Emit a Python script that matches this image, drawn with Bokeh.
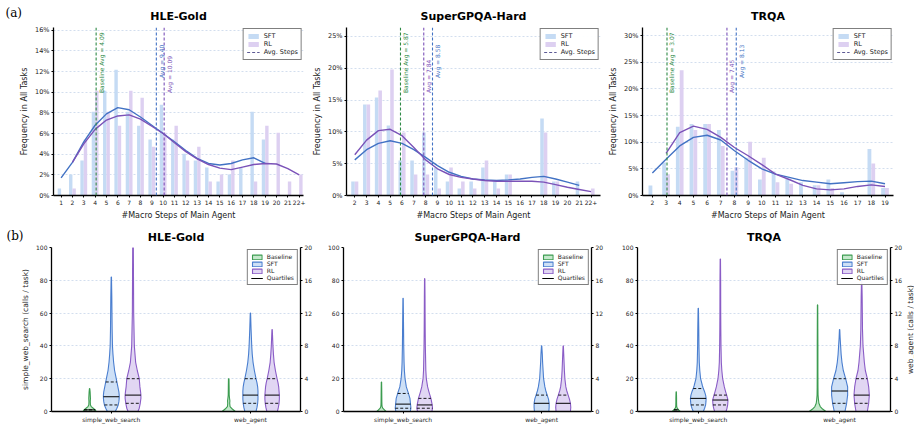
import numpy as np
from bokeh.plotting import figure
from bokeh.layouts import row, column
from bokeh.models import Range1d, FixedTicker, Span, Legend, LegendItem, LinearAxis, Label
from bokeh.core.properties import value
from bokeh.embed import file_html
from bokeh.resources import INLINE

FONT = "DejaVu Sans"

# ---------------- (a) macro-step distributions (% of tasks) ----------------
hle_steps = list(range(1, 23))
hle_labels = [str(s) for s in range(1, 22)] + ["22+"]
hle_sft = [0.68, 2.03, 3.38, 8.11, 10.14, 12.16, 8.11, 6.76, 5.41, 8.78, 5.41,
           4.05, 3.38, 2.70, 1.35, 2.03, 2.70, 8.11, 5.41, 0, 0, 0]
hle_rl = [0, 0.68, 5.41, 10.14, 8.11, 6.76, 10.14, 9.46, 4.73, 6.08, 6.76,
          3.38, 4.73, 1.35, 2.03, 3.38, 0, 1.35, 6.76, 6.08, 1.35, 2.03]
hle_sft_kx = list(range(1, 20))
hle_sft_ky = [1.7, 3.2, 5.2, 6.8, 7.9, 8.5, 8.3, 7.6, 6.8, 6.0, 5.2, 4.35, 3.6,
              3.1, 2.95, 3.1, 3.45, 3.65, 3.1]
hle_rl_kx = list(range(2, 23))
hle_rl_ky = [3.2, 5.0, 6.4, 7.3, 7.7, 7.8, 7.4, 6.7, 6.0, 5.1, 4.25, 3.55, 3.0,
             2.65, 2.5, 2.75, 3.0, 3.1, 3.05, 2.6, 2.0]
hle_avg = {"base": 4.09, "sft": 9.40, "rl": 10.09}

sg_steps = list(range(2, 23))
sg_labels = [str(s) for s in range(2, 22)] + ["22+"]
sg_sft = [2.2, 14.3, 15.4, 11.0, 5.5, 5.5, 9.9, 4.4, 2.2, 1.1, 2.2, 4.4, 2.2,
          3.3, 0, 0, 12.1, 2.2, 0, 2.2, 0]
sg_rl = [2.2, 14.3, 16.5, 19.8, 9.9, 3.3, 3.3, 1.1, 4.4, 2.2, 1.1, 5.5, 1.1,
         3.3, 0, 0, 9.9, 2.2, 0, 0, 1.1]
sg_sft_kx = list(range(2, 22))
sg_sft_ky = [5.6, 7.2, 8.2, 8.6, 8.2, 7.2, 6.0, 4.7, 3.65, 3.0, 2.6, 2.45, 2.35,
             2.45, 2.6, 2.85, 3.0, 2.6, 2.1, 1.6]
sg_rl_kx = list(range(2, 23))
sg_rl_ky = [6.4, 8.7, 10.2, 10.4, 9.4, 7.55, 5.6, 4.2, 3.3, 2.85, 2.6, 2.35, 2.25,
            2.25, 2.25, 2.25, 2.1, 1.7, 1.3, 0.95, 0.6]
sg_avg = {"base": 5.87, "sft": 8.58, "rl": 7.84}

tr_steps = list(range(2, 20))
tr_labels = [str(s) for s in range(2, 20)]
tr_sft = [1.86, 6.2, 12.9, 13.4, 13.4, 12.3, 4.65, 7.1, 3.0, 4.5, 3.1, 2.5, 1.9,
          3.0, 0.6, 0, 8.7, 1.4]
tr_rl = [0, 4.0, 23.5, 12.3, 13.4, 9.3, 5.3, 10.1, 7.1, 2.5, 2.2, 0, 1.9, 1.4,
         0, 0, 6.0, 1.4]
tr_sft_kx = list(range(2, 20))
tr_sft_ky = [4.2, 6.8, 9.3, 10.9, 11.3, 10.4, 8.4, 6.6, 5.0, 4.0, 3.4, 2.8, 2.5,
             2.2, 2.4, 2.6, 2.7, 2.2]
tr_rl_kx = list(range(3, 20))
tr_rl_ky = [7.9, 11.8, 13.0, 12.4, 10.9, 9.0, 7.45, 5.8, 4.0, 3.0, 1.9, 1.25,
            1.05, 1.25, 1.7, 2.0, 1.7]
tr_avg = {"base": 3.07, "sft": 8.13, "rl": 7.45}

# ---------------- (b) tool calls per task: violin profiles ----------------
# *_v: call counts, *_d: relative density (violin half-width), *_q: quartiles
hle_sws_base_v = [0, 1, 2, 3, 4, 6, 8, 10, 12, 14]
hle_sws_base_d = [20, 17, 11, 5, 2.5, 2, 2.5, 2, 1.5, 0.5]
hle_sws_base_q = [0, 1, 1]
hle_sws_sft_v = [0, 2, 4, 6, 8, 10, 12, 15, 20, 25, 30, 35, 40, 50, 60, 70, 82]
hle_sws_sft_d = [12, 17, 21, 23, 24, 24, 23, 20, 15, 10, 7, 5, 3.5, 2.5, 2, 1.5, 0.5]
hle_sws_sft_q = [4, 9, 18]
hle_sws_rl_v = [0, 2, 5, 8, 10, 12, 15, 20, 25, 30, 35, 40, 50, 60, 80, 100]
hle_sws_rl_d = [15, 19, 22, 24, 24, 23, 21, 19, 13, 8, 6, 4, 3, 2, 1.5, 1]
hle_sws_rl_q = [5, 10, 20]
hle_web_base_v = [0, 0.3, 0.6, 1, 1.3, 1.6, 2, 3, 4]
hle_web_base_d = [20, 11, 4, 3, 3.5, 2.5, 1.5, 1.2, 0.8]
hle_web_base_q = [0, 0, 0]
hle_web_sft_v = [0, 0.5, 1, 1.5, 2, 2.5, 3, 3.5, 4, 5, 6, 7, 8, 10, 12]
hle_web_sft_d = [17, 20, 22, 23, 23, 23, 22, 20, 17, 12, 8, 5.5, 4, 2, 0.5]
hle_web_sft_q = [1, 2, 4]
hle_web_rl_v = [0, 0.5, 1, 1.5, 2, 2.5, 3, 3.5, 4, 5, 6, 7, 8, 10]
hle_web_rl_d = [16, 19, 21, 22, 22, 21, 20, 18, 15, 10, 6, 4, 2.5, 0.5]
hle_web_rl_q = [1, 2, 4]

sg_sws_base_v = [0, 1, 2, 3, 4, 6, 10, 14, 18]
sg_sws_base_d = [14, 9, 4, 2, 1.5, 1.2, 1, 0.8, 0.5]
sg_sws_base_q = [0, 0, 0]
sg_sws_sft_v = [0, 2, 4, 6, 8, 10, 12, 15, 20, 25, 30, 40, 50, 60, 69]
sg_sws_sft_d = [22, 24, 23, 22, 21, 18, 15, 10, 6, 4, 3, 2, 1.5, 1, 0.5]
sg_sws_sft_q = [2, 4.5, 11]
sg_sws_rl_v = [0, 2, 4, 6, 8, 10, 12, 15, 20, 25, 30, 40, 50, 60, 70, 81]
sg_sws_rl_d = [22, 24, 23, 21, 19, 16, 13, 9, 5, 3.5, 3, 2, 1.5, 1.2, 1, 0.5]
sg_sws_rl_q = [2, 4, 8]
sg_web_base_v = [0, 0]
sg_web_base_d = [22, 22]
sg_web_base_q = [0, 0, 0]
sg_web_sft_v = [0, 0.5, 1, 1.5, 2, 2.5, 3, 4, 5, 6, 7, 8]
sg_web_sft_d = [22, 23, 23, 21, 17, 13, 10, 6, 4.5, 3, 2, 0.5]
sg_web_sft_q = [0, 1, 2]
sg_web_rl_v = [0, 0.5, 1, 1.5, 2, 2.5, 3, 4, 5, 6, 7, 8]
sg_web_rl_d = [22, 23, 22, 19, 15, 11, 8, 5, 3.5, 2.5, 1.5, 0.5]
sg_web_rl_q = [0, 1, 2]

tr_sws_base_v = [0, 1, 2, 3, 4, 6, 8, 10, 12]
tr_sws_base_d = [12, 7, 3, 1.5, 1.2, 1, 1, 0.8, 0.5]
tr_sws_base_q = [0, 1, 1]
tr_sws_sft_v = [0, 2, 4, 6, 8, 10, 12, 14, 16, 20, 25, 30, 40, 50, 63]
tr_sws_sft_d = [15, 19, 22, 23, 23.5, 22, 19, 15, 12, 7, 4.5, 3, 2, 1.5, 0.5]
tr_sws_sft_q = [4, 8, 14]
tr_sws_rl_v = [0, 2, 4, 7, 10, 12, 15, 20, 25, 30, 40, 50, 60, 80, 93]
tr_sws_rl_d = [17, 20, 22, 23, 19, 16, 12, 7, 4.5, 3, 2, 1.5, 1.2, 1, 0.5]
tr_sws_rl_q = [4, 7, 10]
tr_web_base_v = [0, 0.3, 0.6, 1, 1.5, 2, 3, 5, 8, 10, 13]
tr_web_base_d = [25, 15, 8, 4, 2.5, 1.5, 1.2, 1, 1, 0.8, 0.5]
tr_web_base_q = [0, 0, 0]
tr_web_sft_v = [0, 1, 2, 3, 4, 5, 6, 7, 8, 9, 10]
tr_web_sft_d = [16, 21, 24, 24, 18, 11, 7, 4.5, 3, 1.5, 0.5]
tr_web_sft_q = [1, 2.5, 4]
tr_web_rl_v = [0, 1, 2, 3, 4, 5, 6, 8, 10, 12, 14, 16]
tr_web_rl_d = [17, 21, 23, 21, 17, 11, 8, 4, 2.5, 2, 1.5, 0.5]
tr_web_rl_q = [1, 2, 4]

tool_groups = ["simple_web_search", "web_agent"]
models = ["Baseline", "SFT", "RL"]

# ---------------- styling ----------------
C_SFT_BAR = "#c5dbf4"
C_RL_BAR = "#ddd0f1"
C_SFT = "#4272c4"
C_RL = "#7b52b8"
C_BASE = "#2e8a46"
C_AVG = "#5d5a95"
V_LINE = {"Baseline": "#3c9c50", "SFT": "#4a7ecf", "RL": "#8a5cc6"}
V_FILL = {"Baseline": "#bfe5c6", "SFT": "#c9ddf5", "RL": "#ded1f2"}
GRID = "#c8d5ea"
TEXT = "#222222"


def style_axis(ax, tick_size="6.5px", label_size="8px"):
    ax.major_label_text_font = FONT
    ax.major_label_text_font_size = tick_size
    ax.major_label_text_color = TEXT
    ax.axis_label_text_font = FONT
    ax.axis_label_text_font_style = "normal"
    ax.axis_label_text_font_size = label_size
    ax.axis_label_text_color = TEXT
    ax.axis_line_color = "black"
    ax.axis_line_width = 1.3
    ax.major_tick_in = 0
    ax.major_tick_out = 2
    ax.minor_tick_line_color = None
    ax.major_label_standoff = 2
    ax.axis_label_standoff = 3


def base_fig(title, width, height, xr, yr, left, right, top, bottom, standoff):
    p = figure(width=width, height=height, x_range=Range1d(*xr), y_range=Range1d(*yr),
               output_backend="svg", toolbar_location=None,
               min_border_left=left, min_border_right=right,
               min_border_top=top, min_border_bottom=bottom)
    p.title.text = title
    p.title.align = "center"
    p.title.text_font = FONT
    p.title.text_font_size = "11px"
    p.title.text_font_style = "bold"
    p.title.text_color = "black"
    p.title.standoff = standoff
    p.outline_line_color = None
    p.xgrid.visible = False
    p.ygrid.grid_line_color = GRID
    p.ygrid.grid_line_dash = "2 2"
    p.ygrid.grid_line_width = 0.8
    return p


def step_panel(title, steps, labels, sft, rl, sft_kx, sft_ky, rl_kx, rl_ky, avg,
               ytick_step, ytop, xr, width, left, right, bar_w):
    p = base_fig(title, width, 225, xr, (0, ytop), left, right, 27, 30, 10)
    yticks = [int(t) for t in np.arange(0, ytop, ytick_step)]
    p.yaxis.ticker = FixedTicker(ticks=yticks)
    p.yaxis.major_label_overrides = {t: f"{t}%" for t in yticks}
    p.ygrid.ticker = FixedTicker(ticks=yticks)
    p.xaxis.ticker = FixedTicker(ticks=steps)
    p.xaxis.major_label_overrides = {s: lab for s, lab in zip(steps, labels)}
    p.yaxis.axis_label = "Frequency in All Tasks"
    p.xaxis.axis_label = "#Macro Steps of Main Agent"
    style_axis(p.yaxis[0])
    style_axis(p.xaxis[0], tick_size="6px")

    r_sft = p.vbar(x=[s - bar_w / 2 for s in steps], top=sft, width=bar_w,
                   fill_color=C_SFT_BAR, line_color=None)
    r_rl = p.vbar(x=[s + bar_w / 2 for s in steps], top=rl, width=bar_w,
                  fill_color=C_RL_BAR, line_color=None)
    p.line(sft_kx, sft_ky, line_color=C_SFT, line_width=1.4)
    p.line(rl_kx, rl_ky, line_color=C_RL, line_width=1.4)

    for key, color, text, frac in [("base", C_BASE, "Baseline Avg = {:.2f}", 0.61),
                                   ("sft", C_SFT, "Avg = {:.2f}", 0.70),
                                   ("rl", C_RL, "Avg = {:.2f}", 0.61)]:
        p.add_layout(Span(location=avg[key], dimension="height", line_color=color,
                          line_dash="3 2", line_width=1.1))
        p.text(x=[avg[key]], y=[frac * ytop], text=[text.format(avg[key])],
               angle=np.pi / 2, text_align="left", text_baseline="top", x_offset=1.5,
               text_font=value(FONT), text_font_size="6px", text_color=color)

    r_avg = p.line(x=[0, 0], y=[0, 0], line_color=C_AVG, line_dash="3 2", line_width=1.2)
    leg = Legend(items=[LegendItem(label="SFT", renderers=[r_sft]),
                        LegendItem(label="RL", renderers=[r_rl]),
                        LegendItem(label="Avg. Steps", renderers=[r_avg])],
                 location="top_right")
    leg.margin = 1
    leg.padding = 3
    leg.spacing = 0
    leg.label_standoff = 4
    leg.glyph_width = 13
    leg.glyph_height = 6
    leg.label_height = 8
    leg.label_text_font = FONT
    leg.label_text_font_size = "6.5px"
    leg.label_text_color = TEXT
    leg.border_line_color = "black"
    leg.border_line_width = 1
    p.add_layout(leg)
    return p


VIOLIN_SCALE = 0.0567 / 24
HUE_OFFSET = {"Baseline": -0.156, "SFT": 0.0, "RL": 0.156}


def draw_violin(p, center, v, d, q, model, range_name):
    v = np.asarray(v, dtype=float)
    hw = np.asarray(d, dtype=float) * VIOLIN_SCALE
    xs = np.concatenate([center - hw, (center + hw)[::-1]])
    ys = np.concatenate([v, v[::-1]])
    r = p.patch(xs, ys, fill_color=V_FILL[model], fill_alpha=0.9,
                line_color=V_LINE[model], line_width=1.1, y_range_name=range_name)
    for i, qv in enumerate(q):
        w = float(np.interp(qv, v, hw))
        p.segment(x0=[center - w], x1=[center + w], y0=[qv], y1=[qv],
                  line_color="black", line_width=1.0 if i == 1 else 0.9,
                  line_dash="solid" if i == 1 else "3 2", y_range_name=range_name)
    return r


def violin_panel(title, sws, web, width, left, right, left_label, right_label):
    p = base_fig(title, width, 200, (-0.43, 1.36), (0, 100), left, right, 22, 14, 7)
    p.extra_y_ranges = {"calls": Range1d(0, 20)}
    p.yaxis.ticker = FixedTicker(ticks=[0, 20, 40, 60, 80, 100])
    p.ygrid.ticker = FixedTicker(ticks=[0, 20, 40, 60, 80, 100])
    p.xaxis.ticker = FixedTicker(ticks=[0, 1])
    p.xaxis.major_label_overrides = {0: tool_groups[0], 1: tool_groups[1]}
    raxis = LinearAxis(y_range_name="calls", ticker=FixedTicker(ticks=[0, 4, 8, 12, 16, 20]))
    p.add_layout(raxis, "right")
    if left_label:
        p.yaxis[0].axis_label = left_label
    for ax in (p.yaxis[0], raxis, p.xaxis[0]):
        style_axis(ax, tick_size="6px", label_size="7.5px")
    if right_label:
        # right-hand caption reads bottom-to-top, like the left one
        p.add_layout(Label(x=5, y=82, x_units="screen", y_units="screen", text=right_label,
                           angle=np.pi / 2, text_align="center", text_baseline="middle",
                           text_font=FONT, text_font_size="7.5px", text_color=TEXT),
                     "right")

    handles = {}
    for gi, (group, rname) in enumerate([(sws, "default"), (web, "calls")]):
        for m in models:
            v, d, q = group[m]
            r = draw_violin(p, gi + HUE_OFFSET[m], v, d, q, m, rname)
            handles.setdefault(m, r)

    r_q = p.line(x=[0, 0], y=[0, 0], line_color="black", line_width=1.2)
    leg = Legend(items=[LegendItem(label=m, renderers=[handles[m]]) for m in models] +
                 [LegendItem(label="Quartiles", renderers=[r_q])], location="top_right")
    leg.margin = 2
    leg.padding = 3
    leg.spacing = 0
    leg.label_standoff = 4
    leg.glyph_width = 12
    leg.glyph_height = 6
    leg.label_height = 7
    leg.label_text_font = FONT
    leg.label_text_font_size = "6px"
    leg.label_text_color = TEXT
    leg.border_line_color = "black"
    leg.border_line_width = 1
    p.add_layout(leg)
    return p


p1 = step_panel("HLE-Gold", hle_steps, hle_labels, hle_sft, hle_rl, hle_sft_kx, hle_sft_ky,
                hle_rl_kx, hle_rl_ky, hle_avg, 2, 16.26, (0.33, 22.38), 310, 50, 7, 0.3)
p2 = step_panel("SuperGPQA-Hard", sg_steps, sg_labels, sg_sft, sg_rl, sg_sft_kx, sg_sft_ky,
                sg_rl_kx, sg_rl_ky, sg_avg, 5, 26.4, (1.3, 22.8), 296, 33, 6, 0.3)
p3 = step_panel("TRQA", tr_steps, tr_labels, tr_sft, tr_rl, tr_sft_kx, tr_sft_ky,
                tr_rl_kx, tr_rl_ky, tr_avg, 5, 31.5, (1.28, 19.62), 308, 31, 21, 0.28)

p4 = violin_panel("HLE-Gold",
                  {"Baseline": (hle_sws_base_v, hle_sws_base_d, hle_sws_base_q),
                   "SFT": (hle_sws_sft_v, hle_sws_sft_d, hle_sws_sft_q),
                   "RL": (hle_sws_rl_v, hle_sws_rl_d, hle_sws_rl_q)},
                  {"Baseline": (hle_web_base_v, hle_web_base_d, hle_web_base_q),
                   "SFT": (hle_web_sft_v, hle_web_sft_d, hle_web_sft_q),
                   "RL": (hle_web_rl_v, hle_web_rl_d, hle_web_rl_q)},
                  315, 51, 12, "simple_web_search (calls / task)", None)
p5 = violin_panel("SuperGPQA-Hard",
                  {"Baseline": (sg_sws_base_v, sg_sws_base_d, sg_sws_base_q),
                   "SFT": (sg_sws_sft_v, sg_sws_sft_d, sg_sws_sft_q),
                   "RL": (sg_sws_rl_v, sg_sws_rl_d, sg_sws_rl_q)},
                  {"Baseline": (sg_web_base_v, sg_web_base_d, sg_web_base_q),
                   "SFT": (sg_web_sft_v, sg_web_sft_d, sg_web_sft_q),
                   "RL": (sg_web_rl_v, sg_web_rl_d, sg_web_rl_q)},
                  291, 28, 10, None, None)
p6 = violin_panel("TRQA",
                  {"Baseline": (tr_sws_base_v, tr_sws_base_d, tr_sws_base_q),
                   "SFT": (tr_sws_sft_v, tr_sws_sft_d, tr_sws_sft_q),
                   "RL": (tr_sws_rl_v, tr_sws_rl_d, tr_sws_rl_q)},
                  {"Baseline": (tr_web_base_v, tr_web_base_d, tr_web_base_q),
                   "SFT": (tr_web_sft_v, tr_web_sft_d, tr_web_sft_q),
                   "RL": (tr_web_rl_v, tr_web_rl_d, tr_web_rl_q)},
                  308, 31, 24, None, "web_agent (calls / task)")

# Panel tags live in the left border panel so they are not clipped to the frame
for p, txt, sy in [(p1, "(a)", 183), (p4, "(b)", 176)]:
    p.add_layout(Label(x=5, y=sy, x_units="screen", y_units="screen", text=txt,
                       text_font="DejaVu Serif", text_font_size="12px",
                       text_baseline="middle", text_align="left", text_color="black"),
                 "left")

layout = column(row(p1, p2, p3), row(p4, p5, p6))
open("out.html", "w").write(file_html(layout, INLINE))
